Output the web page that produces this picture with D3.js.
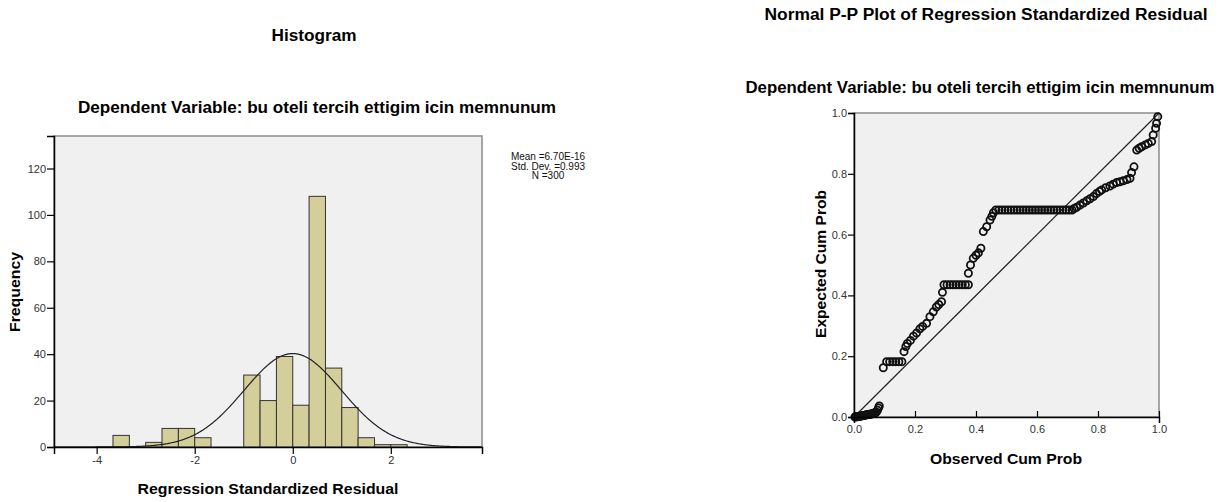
<!DOCTYPE html>
<html>
<head>
<meta charset="utf-8">
<script src="https://cdn.jsdelivr.net/npm/d3@7"></script>
<style>
  body { margin: 0; background: #fff; }
  text { font-family: "Liberation Sans", Arial, sans-serif; }
  .title { font-size: 16px; font-weight: bold; fill: #000; }
  .aText { font-size: 15px; font-weight: bold; fill: #000; }
  .tick text { font-size: 11px; fill: #333; }
  .legend { font-size: 10px; fill: #111; }
</style>
</head>
<body>
<div id="chart"></div>
<script>
// histogram data (bins of standardized residual, width 1/3)
var binLower = [-3.667, -3.0, -2.667, -2.333, -2.0, -1.0, -0.667, -0.333, 0.0, 0.333, 0.667, 1.0, 1.333, 1.667, 2.0];
var binUpper = [-3.333, -2.667, -2.333, -2.0, -1.667, -0.667, -0.333, 0.0, 0.333, 0.667, 1.0, 1.333, 1.667, 2.0, 2.333];
var binCounts = [5, 2, 8, 8, 4, 31, 20, 39, 18, 108, 34, 17, 4, 1, 1];
var histXTicks = [-4, -2, 0, 2];
var histYTicks = [0, 20, 40, 60, 80, 100, 120];
var residMean = 6.70e-16;
var residSD = 0.993;
var residN = 300;
var legendLines = ["Mean =6.70E-16", "Std. Dev. =0.993", "N =300"];

// P-P plot data (observed cum prob, expected cum prob)
var ppObserved = [
  0.003, 0.007, 0.010, 0.013, 0.017, 0.020, 0.023, 0.027, 0.030, 0.033, 0.037, 0.040, 0.043,
  0.047, 0.050, 0.053, 0.057, 0.060, 0.063, 0.067, 0.070, 0.073, 0.077, 0.080, 0.083,
  0.096, 0.107, 0.117, 0.127, 0.137, 0.147, 0.157,
  0.164, 0.170, 0.175, 0.185, 0.195, 0.205, 0.216, 0.225, 0.238, 0.249, 0.260, 0.270, 0.278, 0.287, 0.290,
  0.295, 0.305, 0.315, 0.325, 0.335, 0.345, 0.355, 0.365, 0.375,
  0.375, 0.382, 0.391, 0.400, 0.408, 0.416, 0.424, 0.435, 0.446, 0.452, 0.457,
  0.465, 0.475, 0.485, 0.495, 0.505, 0.515, 0.525, 0.535, 0.545, 0.555, 0.565, 0.575, 0.585,
  0.595, 0.605, 0.615, 0.625, 0.635, 0.645, 0.655, 0.665, 0.675, 0.685, 0.695, 0.705, 0.715,
  0.722, 0.730, 0.741, 0.752, 0.763, 0.774, 0.785, 0.795, 0.805, 0.812, 0.825, 0.839, 0.850,
  0.861, 0.872, 0.883, 0.895, 0.905, 0.910, 0.918,
  0.927, 0.935, 0.943, 0.955, 0.965, 0.976, 0.981, 0.989, 0.992, 0.996
];
var ppExpected = [
  0.000, 0.001, 0.001, 0.002, 0.002, 0.003, 0.003, 0.004, 0.005, 0.005, 0.006, 0.007, 0.007,
  0.008, 0.009, 0.009, 0.010, 0.011, 0.012, 0.013, 0.014, 0.016, 0.022, 0.030, 0.036,
  0.162, 0.182, 0.182, 0.182, 0.182, 0.182, 0.182,
  0.215, 0.232, 0.242, 0.252, 0.266, 0.276, 0.290, 0.298, 0.308, 0.330, 0.346, 0.362, 0.370, 0.379, 0.410,
  0.435, 0.435, 0.435, 0.435, 0.435, 0.435, 0.435, 0.435, 0.435,
  0.473, 0.500, 0.522, 0.532, 0.540, 0.555, 0.610, 0.626, 0.648, 0.660, 0.672,
  0.681, 0.681, 0.681, 0.681, 0.681, 0.681, 0.681, 0.681, 0.681, 0.681, 0.681, 0.681, 0.681,
  0.681, 0.681, 0.681, 0.681, 0.681, 0.681, 0.681, 0.681, 0.681, 0.681, 0.681, 0.681, 0.681,
  0.686, 0.690, 0.697, 0.704, 0.711, 0.718, 0.725, 0.735, 0.742, 0.747, 0.754, 0.760, 0.766,
  0.771, 0.774, 0.777, 0.781, 0.785, 0.804, 0.823,
  0.878, 0.884, 0.889, 0.895, 0.900, 0.906, 0.928, 0.950, 0.966, 0.988
];
var ppTicks = [0, 0.2, 0.4, 0.6, 0.8, 1.0];

var svgWidth = 1223;
var svgHeight = 502;

var svg = d3.select("#chart")
  .append("svg")
  .attr("width", svgWidth)
  .attr("height", svgHeight);

// ---------- histogram ----------
var hx = d3.scaleLinear().domain([-4.87, 3.86]).range([54, 482]);
var hy = d3.scaleLinear().domain([0, 134]).range([447, 136]);

svg.append("rect")
  .attr("x", hx.range()[0]).attr("y", hy.range()[1])
  .attr("width", hx.range()[1] - hx.range()[0])
  .attr("height", hy.range()[0] - hy.range()[1])
  .attr("fill", "#f0f0f0")
  .attr("stroke", "#8a8a8a")
  .attr("stroke-width", 1.5);

svg.selectAll(".bar")
  .data(binCounts)
  .enter()
  .append("rect")
  .attr("class", "bar")
  .attr("x", (d, i) => hx(binLower[i]))
  .attr("y", d => hy(d))
  .attr("width", (d, i) => hx(binUpper[i]) - hx(binLower[i]))
  .attr("height", d => hy(0) - hy(d))
  .attr("fill", "#d4cf9a")
  .attr("stroke", "#333")
  .attr("stroke-width", 1);

// fitted normal curve from the stats in the legend
var binW = binUpper[0] - binLower[0];
var curveX = d3.range(-4.87, 3.861, 0.02);
var normLine = d3.line()
  .x(d => hx(d))
  .y(d => hy(residN * binW * Math.exp(-0.5 * Math.pow((d - residMean) / residSD, 2)) / (residSD * Math.sqrt(2 * Math.PI))))
  .curve(d3.curveBasis);
svg.append("path")
  .datum(curveX)
  .attr("d", normLine)
  .attr("fill", "none")
  .attr("stroke", "#222")
  .attr("stroke-width", 1.2);

var hxAxis = svg.append("g")
  .attr("transform", `translate(0, ${hy(0)})`)
  .call(d3.axisBottom(hx).tickValues(histXTicks).tickSize(7).tickFormat(d => String(d)));
var hyAxis = svg.append("g")
  .attr("transform", `translate(${hx.range()[0]}, 0)`)
  .call(d3.axisLeft(hy).tickValues(histYTicks).tickSize(7).tickFormat(d => String(d)));
[hxAxis, hyAxis].forEach(function(a) {
  a.select(".domain").attr("stroke", "#000").attr("stroke-width", 1.5);
  a.selectAll(".tick line").attr("stroke", "#000").attr("stroke-width", 1.2);
});
hxAxis.selectAll(".tick line").attr("y1", 0);
hxAxis.selectAll(".tick text").attr("y", 9);
hyAxis.selectAll(".tick text").attr("x", -8);

svg.append("text").attr("class", "title")
  .attr("x", 314).attr("y", 41).attr("text-anchor", "middle")
  .attr("textLength", 85).attr("lengthAdjust", "spacingAndGlyphs")
  .text("Histogram");
svg.append("text").attr("class", "title")
  .attr("x", 317).attr("y", 113).attr("text-anchor", "middle")
  .attr("textLength", 478).attr("lengthAdjust", "spacingAndGlyphs")
  .text("Dependent Variable: bu oteli tercih ettigim icin memnunum");
svg.append("text").attr("class", "aText")
  .attr("x", 268).attr("y", 494).attr("text-anchor", "middle")
  .attr("textLength", 261).attr("lengthAdjust", "spacingAndGlyphs")
  .text("Regression Standardized Residual");
svg.append("text").attr("class", "aText")
  .attr("transform", "translate(20, 292) rotate(-90)")
  .attr("text-anchor", "middle")
  .attr("textLength", 80).attr("lengthAdjust", "spacingAndGlyphs")
  .text("Frequency");

svg.selectAll(".legend")
  .data(legendLines)
  .enter()
  .append("text")
  .attr("class", "legend")
  .attr("x", 548)
  .attr("y", (d, i) => 160 + i * 9.5)
  .attr("text-anchor", "middle")
  .text(d => d);

// ---------- P-P plot ----------
var px = d3.scaleLinear().domain([0, 1]).range([854, 1159]);
var py = d3.scaleLinear().domain([0, 1]).range([417, 113]);

svg.append("rect")
  .attr("x", px(0)).attr("y", py(1))
  .attr("width", px(1) - px(0))
  .attr("height", py(0) - py(1))
  .attr("fill", "#f0f0f0")
  .attr("stroke", "#8a8a8a")
  .attr("stroke-width", 1.5);

svg.append("line")
  .attr("x1", px(0)).attr("y1", py(0))
  .attr("x2", px(1)).attr("y2", py(1))
  .attr("stroke", "#222")
  .attr("stroke-width", 1.2);

svg.selectAll(".pp")
  .data(ppObserved)
  .enter()
  .append("circle")
  .attr("class", "pp")
  .attr("cx", d => px(d))
  .attr("cy", (d, i) => py(ppExpected[i]))
  .attr("r", 3.6)
  .attr("fill", "none")
  .attr("stroke", "#111")
  .attr("stroke-width", 1.8);

var pxAxis = svg.append("g")
  .attr("transform", `translate(0, ${py(0)})`)
  .call(d3.axisBottom(px).tickValues(ppTicks).tickSize(6).tickFormat(d3.format(".1f")));
var pyAxis = svg.append("g")
  .attr("transform", `translate(${px(0)}, 0)`)
  .call(d3.axisLeft(py).tickValues(ppTicks).tickSize(6).tickFormat(d3.format(".1f")));
[pxAxis, pyAxis].forEach(function(a) {
  a.select(".domain").attr("stroke", "#000").attr("stroke-width", 1.5);
  a.selectAll(".tick line").attr("stroke", "#000").attr("stroke-width", 1.2);
});
pxAxis.selectAll(".tick line").attr("y2", -6);
pxAxis.selectAll(".tick text").attr("y", 8);
pyAxis.selectAll(".tick text").attr("x", -7);

svg.append("text").attr("class", "title")
  .attr("x", 986).attr("y", 20).attr("text-anchor", "middle")
  .attr("textLength", 443).attr("lengthAdjust", "spacingAndGlyphs")
  .text("Normal P-P Plot of Regression Standardized Residual");
svg.append("text").attr("class", "title")
  .attr("x", 980).attr("y", 93).attr("text-anchor", "middle")
  .attr("textLength", 469).attr("lengthAdjust", "spacingAndGlyphs")
  .text("Dependent Variable: bu oteli tercih ettigim icin memnunum");
svg.append("text").attr("class", "aText")
  .attr("x", 1006).attr("y", 464).attr("text-anchor", "middle")
  .attr("textLength", 152).attr("lengthAdjust", "spacingAndGlyphs")
  .text("Observed Cum Prob");
svg.append("text").attr("class", "aText")
  .attr("transform", "translate(826, 264) rotate(-90)")
  .attr("text-anchor", "middle")
  .attr("textLength", 148).attr("lengthAdjust", "spacingAndGlyphs")
  .text("Expected Cum Prob");
</script>
</body>
</html>
